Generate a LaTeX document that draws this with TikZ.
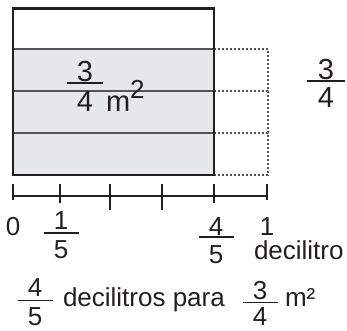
\documentclass[tikz,border=0pt]{standalone}
\usepackage{fontspec}
\setmainfont{Liberation Sans}
\definecolor{fillgray}{HTML}{E6E7E8}
\definecolor{ink}{HTML}{231F20}
\definecolor{midgray}{HTML}{555555}
\tikzset{
  txt/.style={inner sep=0pt, outer sep=0pt, text depth=0pt, text height=19pt, text=ink, font=\fontsize{26}{26}\selectfont},
  bigtxt/.style={txt, text height=21pt, font=\fontsize{29}{29}\selectfont},
  fracbar/.style={draw=ink, line width=1.3pt},
  border/.style={draw=ink, line width=2.6pt},
  inner/.style={draw=midgray, line width=1.6pt},
  dots/.style={draw=midgray, line width=1.1pt, dash pattern=on 2pt off 2pt},
  axis/.style={draw=ink, line width=1.4pt},
}
% \fracat{name}{x}{bar y}{half width}{num}{den}{style}{num gap}{den drop}
\newcommand\fracat[9]{%
  \node[#7, anchor=base] (#1n) at (#2,#3-#8) {#5};
  \node[#7, anchor=base] (#1d) at (#2,#3+#9) {#6};
  \draw[fracbar] (#2-#4,#3) -- (#2+#4,#3);
}
\begin{document}
\begin{tikzpicture}[x=1pt,y=-1pt]
\useasboundingbox (0,0) rectangle (347,330);
% shaded part
\fill[fillgray] (13,49) rectangle (214,175);
% rows
\coordinate (r0l) at (13,8.5); \coordinate (r0r) at (214,8.5);
\coordinate (r1l) at (13,49);  \coordinate (r1r) at (214,49);
\coordinate (r2l) at (13,91);  \coordinate (r2r) at (214,91);
\coordinate (r3l) at (13,133); \coordinate (r3r) at (214,133);
\coordinate (r4l) at (13,175); \coordinate (r4r) at (214,175);
\coordinate (d1) at (268,49); \coordinate (d2) at (268,91);
\coordinate (d3) at (268,133); \coordinate (d4) at (268,175);
\draw[inner] (r1l) -- (r1r);
\draw[inner] (r2l) -- (r2r);
\draw[inner] (r3l) -- (r3r);
\draw[dots] (r1r) -- (d1) -- (d4) -- (r4r);
\draw[dots] (r2r) -- (d2);
\draw[dots] (r3r) -- (d3);
\draw[border] (r0l) rectangle (r4r);
% number line
\coordinate (a0) at (13,196); \coordinate (a1) at (60,196);
\coordinate (a2) at (110,196); \coordinate (a3) at (162,196);
\coordinate (a4) at (214,196); \coordinate (a5) at (267,196);
\draw[axis] (a0) -- (a5);
\draw[axis] (13,184) -- (13,200);
\draw[axis] (60,184) -- (60,203);
\draw[axis] (110,184) -- (110,210);
\draw[axis] (162,184) -- (162,210);
\draw[axis] (214,184) -- (214,203);
\draw[axis] (267,184) -- (267,200);
% labels on the line
\node[txt, anchor=base] (zero) at (13,235) {0};
\fracat{f1}{61}{233}{17.5}{1}{5}{txt}{4}{25.5}
\fracat{f4}{216}{237}{17.5}{4}{5}{txt}{2}{26}
\node[txt, anchor=base] (one) at (267,235) {1};
\node[txt, anchor=base west] (dl) at (254,259) {decilitro};
% in the square
\fracat{fa}{85}{83}{18}{3}{4}{bigtxt}{2}{28}
\node[bigtxt, anchor=base west] (m2a) at (106,111) {m\raisebox{13pt}{\fontsize{26}{26}\selectfont 2}};
% right fraction
\fracat{fr}{326}{81}{19}{3}{4}{bigtxt}{2}{26}
% bottom sentence
\fracat{fb}{35}{300.5}{17.5}{4}{5}{txt}{4}{24.5}
\node[txt, anchor=base west] (sent) at (63,306.5) {decilitros para};
\fracat{fc}{260}{302.5}{17.5}{3}{4}{txt}{3}{22.5}
\node[txt, anchor=base west] (m2b) at (285,306.5) {m²};
\end{tikzpicture}
\end{document}
